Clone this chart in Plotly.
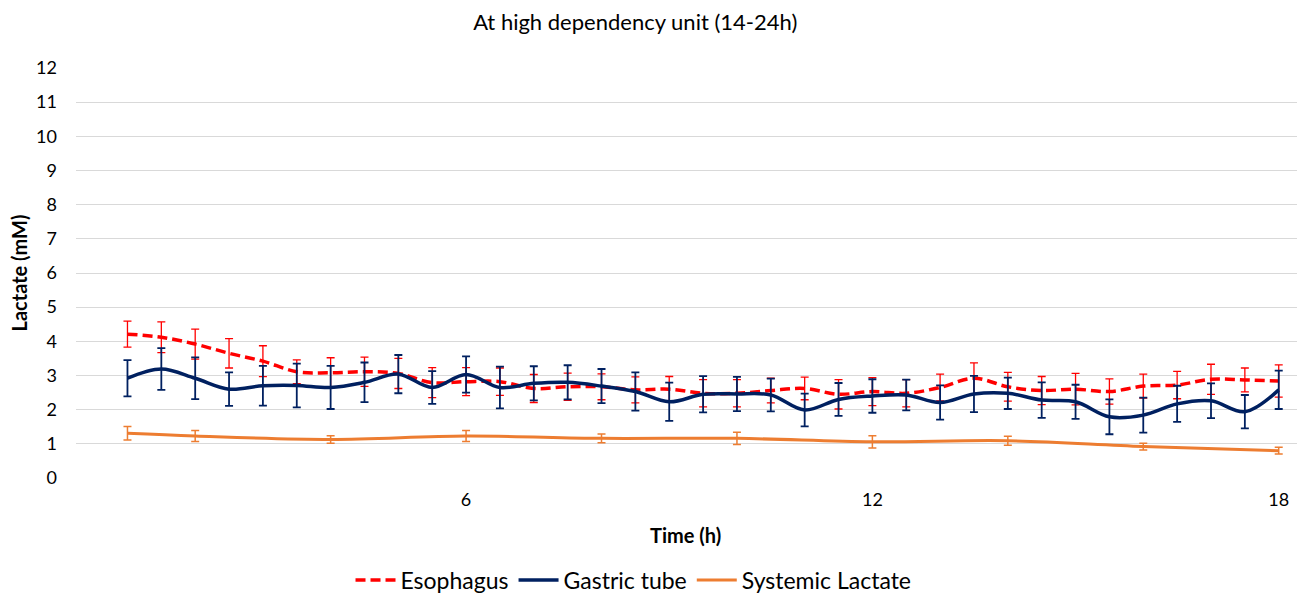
import plotly.graph_objects as go

# ---- data ----
time_probe = [1, 1.5, 2, 2.5, 3, 3.5, 4, 4.5, 5, 5.5, 6, 6.5, 7, 7.5, 8, 8.5, 9, 9.5,
              10, 10.5, 11, 11.5, 12, 12.5, 13, 13.5, 14, 14.5, 15, 15.5, 16, 16.5,
              17, 17.5, 18]
esophagus = [4.21, 4.12, 3.92, 3.65, 3.42, 3.11, 3.08, 3.11, 3.06, 2.79, 2.82, 2.82,
             2.62, 2.67, 2.67, 2.58, 2.60, 2.48, 2.48, 2.56, 2.62, 2.45, 2.53, 2.48,
             2.65, 2.92, 2.67, 2.56, 2.60, 2.53, 2.69, 2.72, 2.89, 2.87, 2.84]
esophagus_err = [0.38, 0.45, 0.44, 0.43, 0.45, 0.35, 0.44, 0.43, 0.44, 0.44, 0.41, 0.40,
                 0.41, 0.40, 0.38, 0.38, 0.37, 0.40, 0.40, 0.36, 0.33, 0.43, 0.41, 0.40,
                 0.39, 0.45, 0.42, 0.41, 0.46, 0.37, 0.35, 0.40, 0.44, 0.35, 0.47]
gastric = [2.92, 3.19, 2.92, 2.60, 2.70, 2.71, 2.65, 2.80, 3.04, 2.65, 3.03, 2.65,
           2.77, 2.80, 2.69, 2.53, 2.23, 2.45, 2.46, 2.43, 1.99, 2.30, 2.40, 2.43,
           2.21, 2.46, 2.48, 2.28, 2.23, 1.79, 1.84, 2.17, 2.26, 1.94, 2.58]
gastric_err = [0.53, 0.61, 0.61, 0.49, 0.58, 0.64, 0.63, 0.58, 0.56, 0.48, 0.53, 0.61,
               0.50, 0.50, 0.50, 0.56, 0.56, 0.53, 0.50, 0.48, 0.48, 0.48, 0.49, 0.45,
               0.50, 0.53, 0.46, 0.52, 0.50, 0.51, 0.51, 0.53, 0.51, 0.49, 0.56]
time_systemic = [1, 2, 4, 6, 8, 10, 12, 14, 16, 18]
systemic = [1.31, 1.23, 1.13, 1.23, 1.16, 1.16, 1.06, 1.09, 0.92, 0.80]
systemic_err = [0.20, 0.16, 0.11, 0.16, 0.13, 0.18, 0.18, 0.13, 0.10, 0.10]

x_ticks = [6, 12, 18]
y_ticks = list(range(0, 13))

FONT = "Lato"
RED = "#FF0000"
NAVY = "#002060"
ORANGE = "#ED7D31"

fig = go.Figure()

fig.add_trace(go.Scatter(
    x=time_systemic, y=systemic, name="Systemic Lactate", mode="lines",
    line=dict(color=ORANGE, width=3, shape="spline", smoothing=1),
    error_y=dict(type="data", array=systemic_err, color=ORANGE, thickness=1.5, width=4),
    legendrank=3,
))
fig.add_trace(go.Scatter(
    x=time_probe, y=esophagus, name="Esophagus", mode="lines",
    line=dict(color=RED, width=3.5, dash="10px,5px", shape="spline", smoothing=1),
    error_y=dict(type="data", array=esophagus_err, color=RED, thickness=1.3, width=4),
    legendrank=1,
))
fig.add_trace(go.Scatter(
    x=time_probe, y=gastric, name="Gastric tube", mode="lines",
    line=dict(color=NAVY, width=3.5, shape="spline", smoothing=1),
    error_y=dict(type="data", array=gastric_err, color=NAVY, thickness=1.8, width=4),
    legendrank=2,
))

fig.update_layout(
    width=1299, height=594,
    paper_bgcolor="white", plot_bgcolor="white",
    margin=dict(l=76, r=2, t=68, b=116, autoexpand=False),
    font=dict(family=FONT, color="#000000", size=18),
    title=dict(text="At high dependency unit (14-24h)", x=0.489, xanchor="center",
               y=0.963, yanchor="middle", font=dict(size=22, family=FONT, color="#000000")),
    showlegend=True,
    legend=dict(orientation="h", x=0.4566, xanchor="center", y=-0.249, yanchor="middle",
                font=dict(size=23, family=FONT, color="#000000"),
                itemwidth=40, tracegroupgap=0),
    annotations=[
        dict(text="<b>Time (h)</b>", xref="paper", yref="paper", x=0.4988, y=-0.139,
             xanchor="center", yanchor="middle", showarrow=False,
             font=dict(size=20, family=FONT, color="#000000")),
        dict(text="<b>Lactate (mM)</b>", xref="paper", yref="paper", x=-0.0463, y=0.5,
             xanchor="center", yanchor="middle", showarrow=False, textangle=-90,
             font=dict(size=20, family=FONT, color="#000000")),
    ],
)
fig.update_xaxes(
    range=[0.24, 18.27], tickvals=x_ticks, ticktext=[str(v) for v in x_ticks],
    showgrid=False, zeroline=False, showline=False, ticks="",
    tickfont=dict(size=18, family=FONT), ticklabelstandoff=9,
)
fig.update_yaxes(
    range=[0, 12], tickvals=y_ticks, showgrid=True, gridcolor="#D9D9D9", gridwidth=1.3,
    zeroline=False, showline=False, ticks="",
    tickfont=dict(size=18, family=FONT), ticklabelstandoff=18,
)

fig.write_html("out.html", config={"displayModeBar": False},
               post_script="document.body.style.margin='0';")
